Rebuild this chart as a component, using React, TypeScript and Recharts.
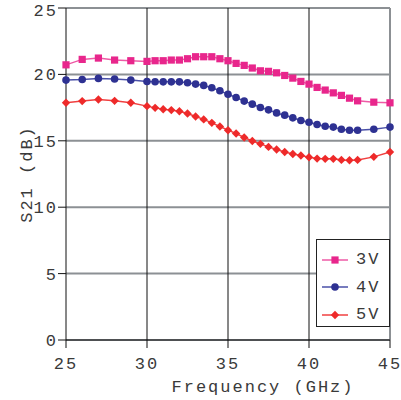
import React from 'react';
import {
  LineChart,
  Line,
  XAxis,
  YAxis,
  CartesianGrid,
  ReferenceLine,
  Legend
} from 'recharts';

const freqs = [25, 26, 27, 28, 29, 30, 30.5, 31, 31.5, 32, 32.5, 33, 33.5, 34, 34.5, 35, 35.5, 36, 36.5, 37, 37.5, 38, 38.5, 39, 39.5, 40, 40.5, 41, 41.5, 42, 42.5, 43, 44, 45];
const s21At3V = [20.72, 21.13, 21.23, 21.08, 21.03, 20.98, 21.03, 21.03, 21.08, 21.08, 21.18, 21.33, 21.33, 21.33, 21.18, 21.03, 20.83, 20.68, 20.48, 20.27, 20.23, 20.12, 19.92, 19.72, 19.47, 19.27, 19.02, 18.82, 18.61, 18.42, 18.21, 18.01, 17.91, 17.86];
const s21At4V = [19.57, 19.62, 19.7, 19.65, 19.57, 19.47, 19.45, 19.44, 19.44, 19.44, 19.37, 19.27, 19.17, 18.99, 18.77, 18.5, 18.26, 17.99, 17.76, 17.51, 17.33, 17.1, 16.93, 16.73, 16.53, 16.4, 16.23, 16.1, 16.03, 15.87, 15.8, 15.8, 15.87, 16.03];
const s21At5V = [17.86, 17.99, 18.11, 18.01, 17.86, 17.61, 17.48, 17.38, 17.31, 17.23, 17.06, 16.83, 16.61, 16.35, 16.08, 15.8, 15.55, 15.25, 14.99, 14.77, 14.54, 14.34, 14.16, 14.01, 13.89, 13.76, 13.66, 13.64, 13.64, 13.56, 13.54, 13.56, 13.79, 14.16];
const xTicks = [25, 30, 35, 40, 45];
const yTicks = [0, 5, 10, 15, 20, 25];
const xGrid = [30, 35, 40];

const data = freqs.map((f, i) => ({ f, v3: s21At3V[i], v4: s21At4V[i], v5: s21At5V[i] }));

const FONT = '"Liberation Mono", "DejaVu Sans Mono", monospace';
const TEXT = '#3a3a3a';
const GRAY = '#8c9094';

const SERIES = [
  { key: 'v3', name: '3V', dot: '#e8268c', line: '#ee5aa6', shape: 'square' },
  { key: 'v4', name: '4V', dot: '#2e3192', line: '#4a50a8', shape: 'circle' },
  { key: 'v5', name: '5V', dot: '#ee2a2a', line: '#f04040', shape: 'diamond' }
];

const Marker = ({ cx, cy, shape, color }: any) => {
  if (cx == null || cy == null) return null;
  if (shape === 'square') return <rect x={cx - 3.6} y={cy - 3.6} width={7.2} height={7.2} fill={color} />;
  if (shape === 'circle') return <circle cx={cx} cy={cy} r={3.8} fill={color} />;
  return <polygon points={`${cx},${cy - 4.2} ${cx + 4.2},${cy} ${cx},${cy + 4.2} ${cx - 4.2},${cy}`} fill={color} />;
};

const YTitle = () => (
  <text x={32} y={174} transform="rotate(-90 32 174)" textAnchor="middle"
    fontFamily={FONT} fontSize={17} letterSpacing={2} fill={TEXT}>
    S21 (dB)
  </text>
);

const XTitle = () => (
  <text x={263} y={392} textAnchor="middle"
    fontFamily={FONT} fontSize={17} letterSpacing={2} fill={TEXT}>
    Frequency (GHz)
  </text>
);

const LegendBox = () => (
  <div style={{
    width: 74, height: 88, boxSizing: 'border-box', border: '1px solid #222',
    background: '#fff', paddingTop: 6
  }}>
    {SERIES.map(s => (
      <div key={s.key} style={{ display: 'flex', alignItems: 'center', height: 27.5 }}>
        <svg width={34} height={12} style={{ marginLeft: 5 }}>
          <line x1={0} y1={6} x2={26} y2={6} stroke={s.line} strokeWidth={1.5} />
          <Marker cx={13} cy={6} shape={s.shape} color={s.dot} />
        </svg>
        <span style={{ fontFamily: FONT, fontSize: 17, letterSpacing: 2, color: TEXT }}>{s.name}</span>
      </div>
    ))}
  </div>
);

export default function App() {
  return (
    <div style={{ position: 'absolute', left: 0, top: 0, width: 401, height: 400, background: '#fff' }}>
      <LineChart width={401} height={400} data={data} margin={{ top: 8, right: 11, left: 0, bottom: 0 }}>
        <CartesianGrid vertical={false} stroke={GRAY} strokeWidth={2} />
        {xGrid.map(x => (
          <ReferenceLine key={x} x={x} stroke="#111" strokeWidth={1} />
        ))}
        <ReferenceLine x={45} stroke={GRAY} strokeWidth={2} />
        <XAxis
          dataKey="f"
          type="number"
          domain={[25, 45]}
          ticks={xTicks}
          height={60}
          stroke="#111"
          tickSize={8}
          tickMargin={9}
          tick={{ fontFamily: FONT, fontSize: 17, letterSpacing: 2, fill: TEXT }}
          label={<XTitle />}
        />
        <YAxis
          type="number"
          domain={[0, 25]}
          ticks={yTicks}
          width={66}
          stroke="#111"
          tickSize={8}
          tickMargin={0}
          tick={{ fontFamily: FONT, fontSize: 17, letterSpacing: 2, fill: TEXT }}
          label={<YTitle />}
        />
        <Legend
          layout="vertical"
          align="center"
          verticalAlign="middle"
          content={() => <LegendBox />}
          wrapperStyle={{ position: 'absolute', left: 316, top: 239, width: 74, height: 88 }}
        />
        {SERIES.map(s => (
          <Line
            key={s.key}
            dataKey={s.key}
            name={s.name}
            stroke={s.line}
            strokeWidth={1.5}
            isAnimationActive={false}
            dot={(p: any) => <Marker key={`${s.key}-${p.index}`} cx={p.cx} cy={p.cy} shape={s.shape} color={s.dot} />}
            activeDot={false}
          />
        ))}
      </LineChart>
    </div>
  );
}
